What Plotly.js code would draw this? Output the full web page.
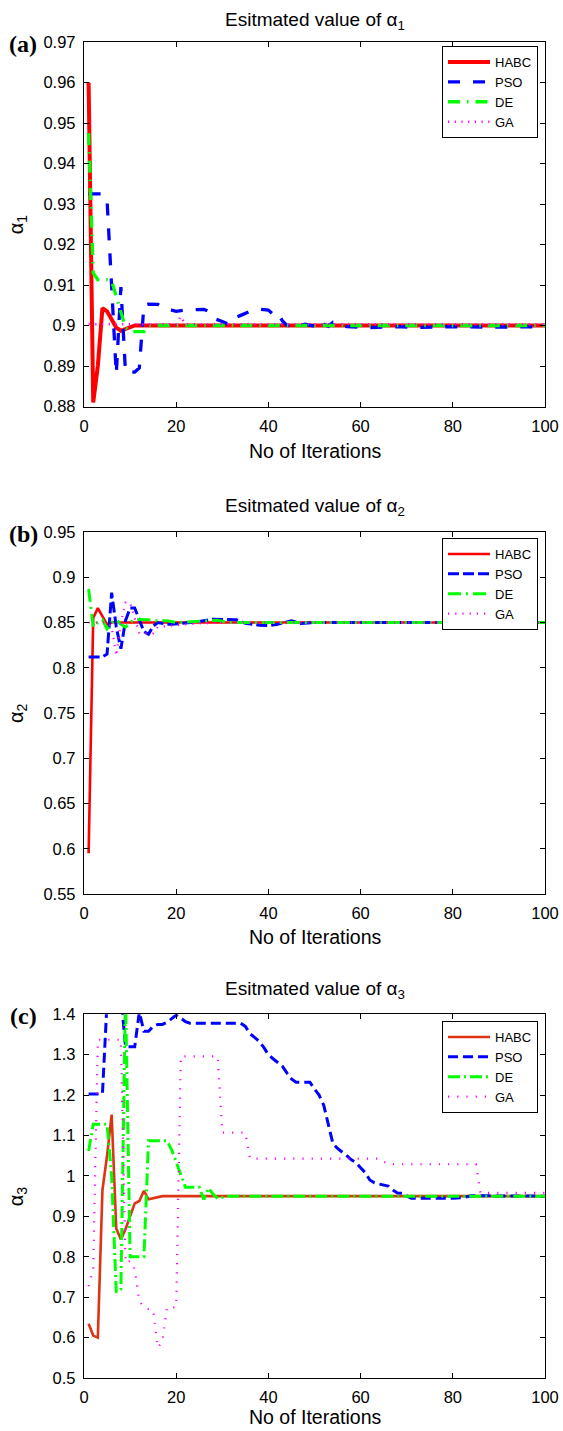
<!DOCTYPE html>
<html><head><meta charset="utf-8">
<script src="https://cdn.plot.ly/plotly-3.0.1.min.js"></script>
<style>html,body{margin:0;padding:0;background:#fff}#chart{width:563px;height:1431px}</style>
</head><body><div id="chart"></div>
<script>
// ---------- data ----------
const seriesNames = ['HABC', 'PSO', 'DE', 'GA'];
const xTickVals = [0, 20, 40, 60, 80, 100];
const xTickText = ['0', '20', '40', '60', '80', '100'];

// Panel (a): alpha_1
const a_HABC_x = [1,2,3,4,5,6,7,8,9,10,11,100];
const a_HABC_y = [0.960,0.881,0.890,0.9043,0.9035,0.9015,0.8995,0.8987,0.8992,0.8997,0.900,0.900];
const a_PSO_x = [1,2,3,4,5,6,7,8,9,10,11,12,13,14,15,16,17,18,19,20,22,24,26,27,28,30,31,32,33,34,36,38,40,41,42,43,44,46,48,50,51,52,53,54,55,57,62,68,72,79,89,95,100];
const a_PSO_y = [0.9325,0.9325,0.9325,0.9325,0.931,0.909,0.888,0.9095,0.8885,0.8885,0.8885,0.8895,0.905,0.9053,0.9053,0.9052,0.9045,0.904,0.9038,0.9035,0.9038,0.904,0.904,0.9035,0.9018,0.901,0.9005,0.9005,0.902,0.9025,0.9035,0.904,0.9038,0.9028,0.9032,0.9012,0.900,0.8998,0.9003,0.8998,0.9012,0.9003,0.8998,0.9008,0.9005,0.8997,0.8995,0.8997,0.8995,0.8997,0.8996,0.8997,0.8997];
const a_DE_x = [1,2,3,4,5,6,7,8,9,10,11,12,13,14,100];
const a_DE_y = [0.9475,0.913,0.9113,0.9113,0.9113,0.911,0.907,0.9035,0.8995,0.8985,0.8985,0.8985,0.8985,0.900,0.900];
const a_GA_x = [1,20,21,22,100];
const a_GA_y = [0.9003,0.9003,0.9022,0.9003,0.9003];

// Panel (b): alpha_2
const b_HABC_x = [1,2,3,4,5,6,7,8,100];
const b_HABC_y = [0.595,0.855,0.866,0.857,0.848,0.850,0.8505,0.850,0.850];
const b_PSO_x = [1,2,3,4,5,6,7,8,9,10,11,12,13,14,15,16,17,18,19,21,25,28,30,32,33,35,38,40,42,45,47,50,100];
const b_PSO_y = [0.812,0.812,0.812,0.812,0.815,0.883,0.845,0.821,0.852,0.866,0.866,0.852,0.840,0.837,0.846,0.850,0.849,0.848,0.848,0.849,0.851,0.8537,0.8537,0.853,0.853,0.849,0.847,0.8465,0.848,0.852,0.849,0.850,0.850];
const b_DE_x = [1,2,3,4,5,6,7,8,9,10,11,13,14,16,18,20,27,29,31,100];
const b_DE_y = [0.887,0.845,0.850,0.853,0.843,0.850,0.853,0.848,0.845,0.850,0.8535,0.8537,0.853,0.852,0.852,0.850,0.8525,0.8525,0.850,0.850];
const b_GA_x = [1,5,6,7,8,9,10,11,12,15,16,20,25,30,100];
const b_GA_y = [0.850,0.850,0.845,0.813,0.850,0.872,0.872,0.855,0.838,0.838,0.845,0.847,0.849,0.850,0.850];

// Panel (c): alpha_3
const c_HABC_x = [1,2,3,4,5,6,7,8,9,10,11,12,13,14,15,16,17,100];
const c_HABC_y = [0.634,0.605,0.600,0.965,1.050,1.152,0.870,0.843,0.868,0.900,0.932,0.938,0.963,0.942,0.945,0.948,0.950,0.950];
const c_PSO_x = [1,2,3,4,5,6,7,8,9,10,11,12,13,14,15,16,17,18,19,20,21,22,23,34,35,36,37,38,39,40,41,42,43,44,45,46,49,50,51,52,53,54,55,56,57,58,59,60,61,62,63,64,65,66,67,68,69,70,71,80,82,84,100];
const c_PSO_y = [1.203,1.203,1.203,1.203,1.430,1.450,1.450,1.450,1.320,1.320,1.320,1.405,1.358,1.358,1.370,1.375,1.375,1.380,1.390,1.398,1.390,1.382,1.378,1.378,1.370,1.352,1.343,1.333,1.318,1.300,1.290,1.280,1.272,1.255,1.240,1.232,1.232,1.215,1.200,1.175,1.130,1.080,1.068,1.060,1.050,1.040,1.033,1.020,1.008,0.990,0.983,0.980,0.977,0.975,0.965,0.958,0.957,0.950,0.945,0.945,0.946,0.951,0.950];
const c_DE_x = [1,2,3,4,5,6,7,8,9,10,11,12,13,14,15,16,17,18,19,20,21,22,25,26,27,28,29,30,31,100];
const c_DE_y = [1.062,1.128,1.128,1.128,1.128,1.000,0.712,0.720,1.450,0.800,0.800,0.800,0.800,1.087,1.087,1.087,1.087,1.087,1.065,1.035,1.005,0.972,0.972,0.942,0.970,0.955,0.944,0.947,0.950,0.950];
const c_GA_x = [1,2,3,4,5,6,7,8,9,10,11,12,13,14,15,16,17,18,19,20,21,29,30,35,36,64,66,85,86,100];
const c_GA_y = [0.727,0.770,1.337,1.337,1.337,1.337,1.337,1.337,0.785,0.790,0.770,0.690,0.675,0.670,0.668,0.575,0.590,0.675,0.675,0.675,1.296,1.296,1.107,1.107,1.043,1.043,1.029,1.029,0.958,0.958];

const a_yTickVals = [0.88,0.89,0.90,0.91,0.92,0.93,0.94,0.95,0.96,0.97];
const a_yTickText = ['0.88','0.89','0.9','0.91','0.92','0.93','0.94','0.95','0.96','0.97'];
const b_yTickVals = [0.55,0.60,0.65,0.70,0.75,0.80,0.85,0.90,0.95];
const b_yTickText = ['0.55','0.6','0.65','0.7','0.75','0.8','0.85','0.9','0.95'];
const c_yTickVals = [0.5,0.6,0.7,0.8,0.9,1.0,1.1,1.2,1.3,1.4];
const c_yTickText = ['0.5','0.6','0.7','0.8','0.9','1','1.1','1.2','1.3','1.4'];

// ---------- styles ----------
const FONT = 'Liberation Sans, Arial, sans-serif';
const styles = {
  a: [
    {color:'#ff0000', width:4, dash:'solid'},
    {color:'#0000ff', width:3.3, dash:'12px,13px'},
    {color:'#00ff00', width:3.3, dash:'12px,7px,1.5px,7px'},
    {color:'#ff00ff', width:2.5, dash:'1.2px,5.5px'}
  ],
  b: [
    {color:'#ff0000', width:2.6, dash:'solid'},
    {color:'#0000ff', width:3, dash:'11px,4px'},
    {color:'#00ff00', width:3, dash:'13px,5px,2px,5px'},
    {color:'#ff00ff', width:2.2, dash:'1.2px,6px'}
  ],
  c: [
    {color:'rgb(222,52,20)', width:2.6, dash:'solid'},
    {color:'#0000ff', width:3, dash:'10px,5px'},
    {color:'#00ff00', width:3, dash:'12px,4px,2px,4px'},
    {color:'#ff00ff', width:2.2, dash:'1.2px,8px'}
  ]
};

const panels = [
  {key:'a', xa:'x', ya:'y', leg:'legend', xs:[a_HABC_x,a_PSO_x,a_DE_x,a_GA_x], ys:[a_HABC_y,a_PSO_y,a_DE_y,a_GA_y]},
  {key:'b', xa:'x2', ya:'y2', leg:'legend2', xs:[b_HABC_x,b_PSO_x,b_DE_x,b_GA_x], ys:[b_HABC_y,b_PSO_y,b_DE_y,b_GA_y]},
  {key:'c', xa:'x3', ya:'y3', leg:'legend3', xs:[c_HABC_x,c_PSO_x,c_DE_x,c_GA_x], ys:[c_HABC_y,c_PSO_y,c_DE_y,c_GA_y]}
];

const traces = [];
panels.forEach(p => {
  seriesNames.forEach((n, i) => {
    traces.push({
      type:'scatter', mode:'lines', name:n,
      x:p.xs[i], y:p.ys[i], xaxis:p.xa, yaxis:p.ya,
      legend:p.leg, showlegend:true,
      line:Object.assign({}, styles[p.key][i]),
      hoverinfo:'skip'
    });
  });
});

// page geometry helpers (pixels -> paper)
const L = 84, R = 545.5, T = 42, B = 1378;
const px = v => (v - L) / (R - L);
const py = v => (B - v) / (B - T);

function xax(anchor) {
  return {
    domain:[0,1], anchor:anchor, range:[0,100], tickvals:xTickVals, ticktext:xTickText,
    ticks:'inside', ticklen:5, tickcolor:'#000', tickwidth:1,
    showline:true, mirror:'ticks', linecolor:'#000', linewidth:1.2,
    showgrid:false, zeroline:false, ticklabelstandoff:4,
    tickfont:{family:FONT, size:16.5, color:'#000'}, fixedrange:true
  };
}
function yax(anchor, dom, rng, tv, tt) {
  return {
    domain:dom, anchor:anchor, range:rng, tickvals:tv, ticktext:tt,
    ticks:'inside', ticklen:5, tickcolor:'#000', tickwidth:1,
    showline:true, mirror:'ticks', linecolor:'#000', linewidth:1.2,
    showgrid:false, zeroline:false, ticklabelstandoff:4,
    tickfont:{family:FONT, size:16.5, color:'#000'}, fixedrange:true
  };
}
function legend(topPx) {
  return {
    x:px(538.5), xanchor:'right', y:py(topPx), yanchor:'top',
    bgcolor:'#fff', bordercolor:'#000', borderwidth:1,
    font:{family:FONT, size:13, color:'#000'},
    itemwidth:42,
    tracegroupgap:0, itemclick:false, itemdoubleclick:false
  };
}

const panelGeom = [
  {top:42, bottom:406.5, label:'(a)', sub:'1', titleY:21, xlabY:451},
  {top:532, bottom:894, label:'(b)', sub:'2', titleY:507, xlabY:937},
  {top:1014.3, bottom:1378, label:'(c)', sub:'3', titleY:990, xlabY:1417}
];

const annotations = [];
panelGeom.forEach(g => {
  annotations.push({xref:'paper', yref:'paper', x:0.5, y:py(g.titleY), xanchor:'center', yanchor:'middle',
    text:'Esitmated value of α<sub>' + g.sub + '</sub>', showarrow:false,
    font:{family:FONT, size:19, color:'#000'}});
  annotations.push({xref:'paper', yref:'paper', x:0.5, y:py(g.xlabY), xanchor:'center', yanchor:'middle',
    text:'No of Iterations', showarrow:false, font:{family:FONT, size:19.5, color:'#000'}});
  annotations.push({xref:'paper', yref:'paper', x:px(17), y:py((g.top + g.bottom) / 2), xanchor:'center', yanchor:'middle',
    text:'α<sub>' + g.sub + '</sub>', textangle:-90, showarrow:false, font:{family:FONT, size:20, color:'#000'}});
  annotations.push({xref:'paper', yref:'paper', x:px(23), y:py(g.top + 2), xanchor:'center', yanchor:'middle',
    text:'<b>' + g.label + '</b>', showarrow:false, font:{family:'Liberation Serif, Times New Roman, serif', size:24, color:'#000'}});
});

const layout = {
  width:563, height:1431,
  margin:{l:L, r:563 - R, t:T, b:1431 - B, pad:0},
  paper_bgcolor:'#fff', plot_bgcolor:'#fff',
  font:{family:FONT, color:'#000'},
  xaxis:xax('y'), xaxis2:xax('y2'), xaxis3:xax('y3'),
  yaxis:yax('x', [py(406.5), 1], [0.88, 0.97], a_yTickVals, a_yTickText),
  yaxis2:yax('x2', [py(894), py(532)], [0.55, 0.95], b_yTickVals, b_yTickText),
  yaxis3:yax('x3', [0, py(1014.3)], [0.5, 1.4], c_yTickVals, c_yTickText),
  legend:legend(46), legend2:legend(538), legend3:legend(1021),
  annotations:annotations,
  showlegend:true
};

Plotly.newPlot('chart', traces, layout, {displayModeBar:false, staticPlot:true});
</script></body></html>
